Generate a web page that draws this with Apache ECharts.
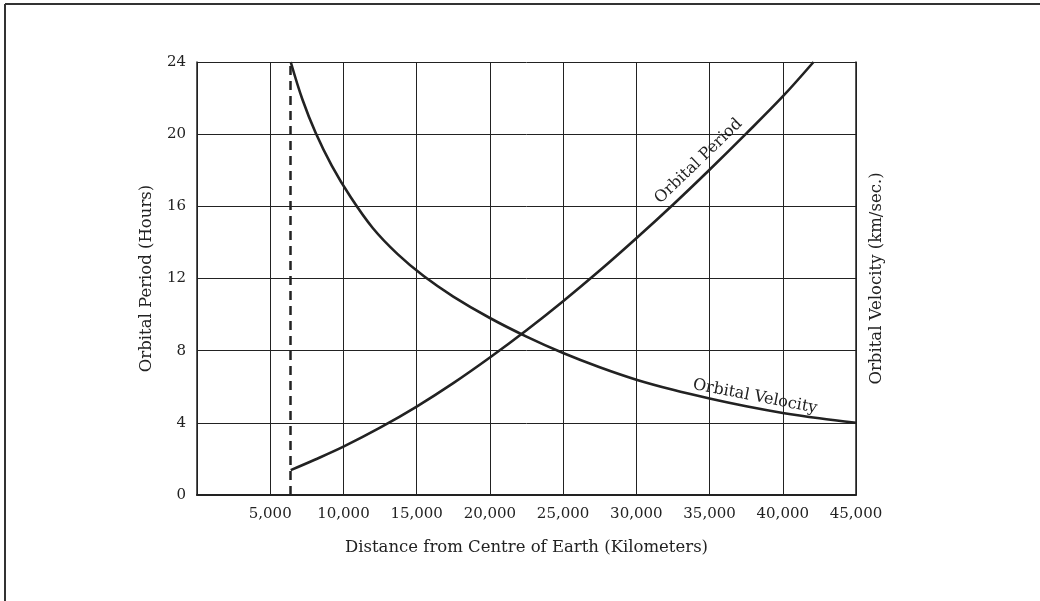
<!DOCTYPE html>
<html>
<head>
<meta charset="utf-8">
<script src="https://cdn.jsdelivr.net/npm/echarts@6/dist/echarts.min.js"></script>
<style>
html,body{margin:0;padding:0;background:#fff;}
#chart{width:1040px;height:601px;}
</style>
</head>
<body>
<div id="chart"></div>
<script>
// Data
const xTicks = [0, 5000, 10000, 15000, 20000, 25000, 30000, 35000, 40000, 45000];
const yTicks = [0, 4, 8, 12, 16, 20, 24];
const earthRadius = 6400;

const periodDistance = [6400, 8000, 10000, 12500, 15000, 17500, 20000, 22500, 25000, 27500, 30000, 32500, 35000, 37500, 40000, 42100];
const periodHours    = [1.38, 1.94, 2.68, 3.73, 4.9, 6.2, 7.62, 9.13, 10.74, 12.44, 14.23, 16.09, 18.03, 20.03, 22.09, 24.0];

const velocityDistance = [6400, 7200, 8100, 9200, 10500, 12000, 13700, 15500, 17500, 20000, 22500, 25000, 27500, 30000, 32500, 35000, 37500, 40000, 42500, 45000];
const velocityValue    = [24, 21.92, 20.08, 18.26, 16.5, 14.8, 13.35, 12.12, 11.0, 9.81, 8.78, 7.87, 7.08, 6.39, 5.83, 5.35, 4.92, 4.55, 4.25, 4.0];

const labelPeriod = {text: 'Orbital Period', at: [34250, 18.5], angle: 44};
const labelVelocity = {text: 'Orbital Velocity', at: [38100, 5.45], angle: -11};

const FONT = 'DejaVu Serif';
const INK = '#222';

const chart = echarts.init(document.getElementById('chart'), null, {renderer: 'canvas'});

const zip = (a, b) => a.map((v, i) => [v, b[i]]);

const option = {
  animation: false,
  backgroundColor: '#fff',
  grid: {left: 197, right: 184, top: 62, bottom: 106, show: false},
  xAxis: {
    type: 'value', min: 0, max: 45000, interval: 5000,
    name: 'Distance from Centre of Earth (Kilometers)',
    nameLocation: 'middle', nameGap: 44,
    nameTextStyle: {fontFamily: FONT, fontSize: 16.5, color: INK},
    axisLine: {show: true, onZero: false, lineStyle: {color: INK, width: 2}},
    axisTick: {show: false},
    axisLabel: {
      margin: 12, fontFamily: FONT, fontSize: 15, color: INK,
      formatter: v => v === 0 ? '' : v.toLocaleString('en-US')
    },
    splitLine: {show: true, lineStyle: {color: INK, width: 1}}
  },
  yAxis: [{
    type: 'value', min: 0, max: 24, interval: 4,
    name: 'Orbital Period (Hours)',
    nameLocation: 'middle', nameGap: 42,
    nameTextStyle: {fontFamily: FONT, fontSize: 16.5, color: INK},
    axisLine: {show: true, lineStyle: {color: INK, width: 1.5}},
    axisTick: {show: false},
    axisLabel: {margin: 11, fontFamily: FONT, fontSize: 15, color: INK},
    splitLine: {show: true, lineStyle: {color: INK, width: 1}}
  }, {
    type: 'value', min: 0, max: 24, interval: 4, position: 'right',
    name: 'Orbital Velocity (km/sec.)',
    nameLocation: 'middle', nameGap: 12,
    nameTextStyle: {fontFamily: FONT, fontSize: 16.5, color: INK},
    axisLine: {show: true, lineStyle: {color: INK, width: 1.5}},
    axisTick: {show: false},
    axisLabel: {show: false},
    splitLine: {show: false}
  }],
  series: [{
    name: 'Orbital Period', type: 'line', smooth: 0.35,
    showSymbol: false, symbol: 'none',
    lineStyle: {color: INK, width: 2.6},
    data: zip(periodDistance, periodHours),
    markLine: {
      silent: true, symbol: 'none', label: {show: false},
      lineStyle: {color: INK, width: 2.5, type: [9, 6]},
      data: [[{coord: [earthRadius, 0]}, {coord: [earthRadius, 24]}]]
    }
  }, {
    name: 'Orbital Velocity', type: 'line', smooth: 0.35,
    showSymbol: false, symbol: 'none',
    lineStyle: {color: INK, width: 2.6},
    data: zip(velocityDistance, velocityValue)
  }]
};
chart.setOption(option);

function curveLabel(l) {
  const p = chart.convertToPixel({gridIndex: 0}, l.at);
  return {
    type: 'text', x: p[0], y: p[1], rotation: l.angle * Math.PI / 180,
    style: {text: l.text, fill: INK, font: '16px "' + FONT + '"', textAlign: 'center', textVerticalAlign: 'middle'}
  };
}

chart.setOption({
  graphic: [
    {type: 'line', shape: {x1: 5, y1: 4, x2: 1040, y2: 4}, style: {stroke: '#333', lineWidth: 2}},
    {type: 'line', shape: {x1: 5, y1: 4, x2: 5, y2: 601}, style: {stroke: '#333', lineWidth: 2}},
    curveLabel(labelPeriod),
    curveLabel(labelVelocity)
  ]
});
</script>
</body>
</html>
